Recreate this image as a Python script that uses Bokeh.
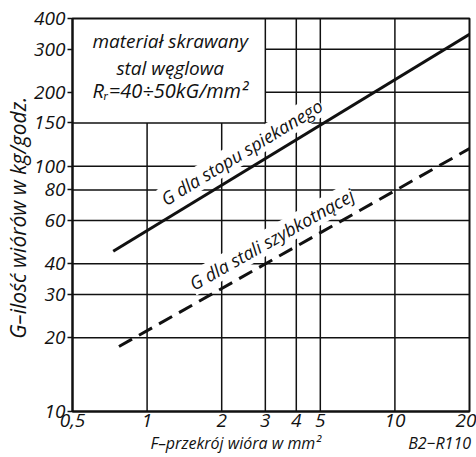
from bokeh.plotting import figure
from bokeh.models import Label, FixedTicker, Title
from bokeh.embed import file_html
from bokeh.resources import INLINE

# ---- data ----
x_ticks = [0.5, 1, 2, 3, 4, 5, 10, 20]
x_tick_labels = ["0,5", "1", "2", "3", "4", "5", "10", "20"]
y_ticks = [10, 20, 30, 40, 60, 80, 100, 150, 200, 300, 400]
y_tick_labels = ["10", "20", "30", "40", "60", "80", "100", "150", "200", "300", "400"]

sinter_F = [0.73, 20]      # G dla stopu spiekanego
sinter_G = [45, 345]
hss_F = [0.77, 20]         # G dla stali szybkotnącej
hss_G = [18.4, 118]

# grid layout (inset box occupies upper-left corner)
vgrid_short = [1, 2]          # stop at 150
vgrid_full = [3, 4, 5, 10]
hgrid_full = [20, 30, 40, 60, 80, 100, 150]
hgrid_short = [200, 300]      # start at x = 3

FONT = "Open Sans"
INK = "#111111"

p = figure(width=476, height=457, x_axis_type="log", y_axis_type="log",
           x_range=(0.5, 20), y_range=(10, 400),
           output_backend="svg", toolbar_location=None,
           min_border_left=72, min_border_right=7, min_border_top=18, min_border_bottom=46)
p.xgrid.visible = False
p.ygrid.visible = False
p.outline_line_color = INK
p.outline_line_width = 2
p.background_fill_color = "white"
p.border_fill_color = "white"

p.xaxis.ticker = FixedTicker(ticks=x_ticks, minor_ticks=[])
p.yaxis.ticker = FixedTicker(ticks=y_ticks, minor_ticks=[])
p.xaxis.major_label_overrides = {t: l for t, l in zip(x_ticks, x_tick_labels)}
p.yaxis.major_label_overrides = {t: l for t, l in zip(y_ticks, y_tick_labels)}
for ax in (p.xaxis[0], p.yaxis[0]):
    ax.axis_line_color = INK
    ax.axis_line_width = 2
    ax.major_tick_line_color = INK
    ax.major_tick_line_width = 1.5
    ax.major_tick_in = 0
    ax.major_label_text_font = FONT
    ax.major_label_text_font_style = "italic"
    ax.major_label_text_font_size = "19px"
    ax.major_label_text_color = INK
p.xaxis.major_tick_out = 0
p.xaxis.major_label_standoff = 2
p.yaxis.major_tick_out = 5
p.yaxis.major_label_standoff = 2

# axis titles as side titles (positioned along the frame)
ytitle = Title(text="G–ilość wiórów w  kg/godz.", align="center", offset=-21,
               text_font=FONT, text_font_style="italic", text_font_size="21px",
               text_color=INK)
xtitle = Title(text="F–przekrój wióra w mm²" + "\u00a0" * 21 + "B2−R110",
               align="left", offset=78,
               text_font=FONT, text_font_style="italic", text_font_size="16px",
               text_color=INK)
for t in (ytitle, xtitle):
    try:
        t.standoff = 0
    except Exception:
        pass
p.add_layout(ytitle, "left")
p.add_layout(xtitle, "below")

# grid lines
gkw = dict(line_color=INK, line_width=1.5, level="underlay")
p.segment(x0=vgrid_short, x1=vgrid_short, y0=[10] * len(vgrid_short), y1=[150] * len(vgrid_short), **gkw)
p.segment(x0=vgrid_full, x1=vgrid_full, y0=[10] * len(vgrid_full), y1=[400] * len(vgrid_full), **gkw)
p.segment(x0=[0.5] * len(hgrid_full), x1=[20] * len(hgrid_full), y0=hgrid_full, y1=hgrid_full, **gkw)
p.segment(x0=[3] * len(hgrid_short), x1=[20] * len(hgrid_short), y0=hgrid_short, y1=hgrid_short, **gkw)

def lab(x, y, text, size, angle=0.0, align="left", baseline="bottom", bg=None,
        style="italic", level="underlay"):
    l = Label(x=x, y=y, text=text, angle=angle, text_align=align, text_baseline=baseline,
              text_font=FONT, text_font_style=style, text_font_size=size, text_color=INK,
              level=level)
    if bg:
        l.background_fill_color = bg
    p.add_layout(l)

# line labels
lab(1.154, 72.5, "G dla stopu spiekanego", "18px", angle=0.548, baseline="alphabetic", bg="white")
lab(1.50, 32.8, "G dla stali szybkotnącej", "18px", angle=0.515, baseline="alphabetic", bg="white")

# inset text
lab(1.24, 323, "materiał skrawany", "19px", align="center", baseline="alphabetic")
lab(1.24, 252, "stal węglowa", "19px", align="center", baseline="alphabetic")
lab(1.24, 203, "Rᵣ=40÷50kG/mm²", "20px", align="center", baseline="alphabetic")

p.line(sinter_F, sinter_G, line_color=INK, line_width=3)
p.line(hss_F, hss_G, line_color=INK, line_width=3, line_dash="15 8")

open("out.html", "w").write(file_html(p, INLINE))
